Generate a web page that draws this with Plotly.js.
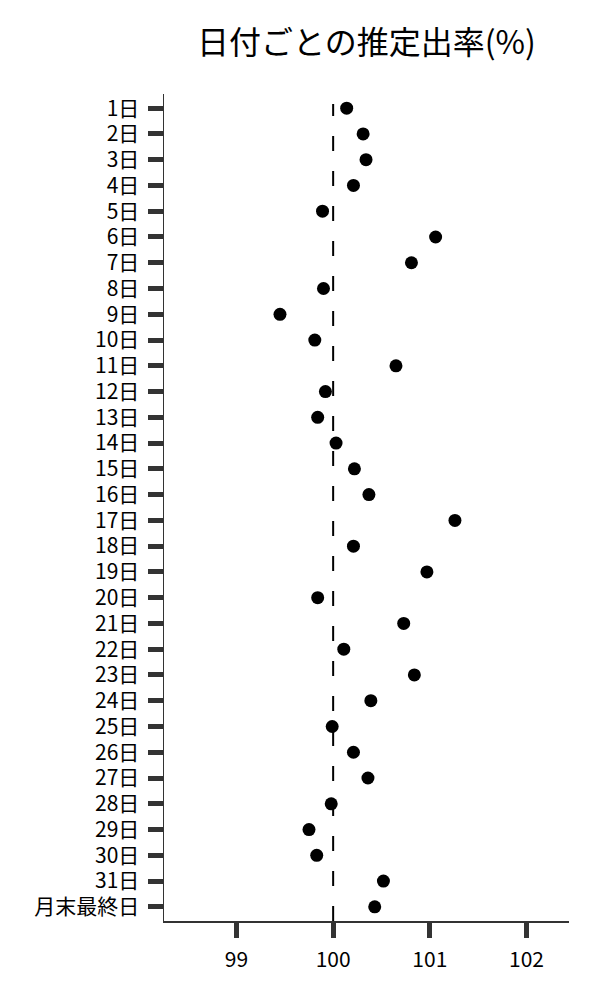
<!DOCTYPE html>
<html>
<head>
<meta charset="utf-8">
<script src="https://cdn.plot.ly/plotly-3.0.1.min.js"></script>
<style>
  html, body { margin: 0; padding: 0; background: #fff; }
  #chart { width: 600px; height: 1000px; }
</style>
</head>
<body>
<div id="chart"></div>
<script>
// days of the month, top to bottom
const days = [
  '1日', '2日', '3日', '4日', '5日', '6日', '7日', '8日', '9日', '10日',
  '11日', '12日', '13日', '14日', '15日', '16日', '17日', '18日', '19日', '20日',
  '21日', '22日', '23日', '24日', '25日', '26日', '27日', '28日', '29日', '30日',
  '31日', '月末最終日'
]

// estimated rate (%) per day
const rates = [
  100.14, 100.31, 100.34, 100.21, 99.89, 101.06, 100.81, 99.90, 99.45, 99.81,
  100.65, 99.92, 99.84, 100.03, 100.22, 100.37, 101.26, 100.21, 100.97, 99.84,
  100.73, 100.11, 100.84, 100.39, 99.99, 100.21, 100.36, 99.98, 99.75, 99.83,
  100.52, 100.43
]

const baseline = 100
const xTicks = [99, 100, 101, 102]

const font = '"Noto Sans CJK JP", "Noto Sans", sans-serif'

const traces = [
  {
    x: rates,
    y: days,
    mode: 'markers',
    type: 'scatter',
    marker: { color: '#000', size: 13 },
    hoverinfo: 'none',
    showlegend: false
  }
]

const layout = {
  width: 600,
  height: 1000,
  margin: { l: 164, r: 31, t: 94, b: 79 },
  paper_bgcolor: '#fff',
  plot_bgcolor: '#fff',
  font: { family: font, color: '#000', size: 21 },
  title: {
    text: '日付ごとの推定出率(%)',
    font: { family: font, size: 32, color: '#000' },
    x: 0.5, xref: 'paper', xanchor: 'center',
    y: 0.957, yref: 'container', yanchor: 'middle'
  },
  // reference line at 100%
  shapes: [{
    type: 'line',
    xref: 'x', yref: 'paper',
    x0: baseline, x1: baseline, y0: 0, y1: 0.988,
    line: { color: '#000', width: 2, dash: '15px,20px' },
    layer: 'below'
  }],
  xaxis: {
    range: [98.25, 102.44],
    tickvals: xTicks,
    ticktext: xTicks.map(String),
    showgrid: false,
    zeroline: false,
    showline: true,
    linecolor: '#333',
    linewidth: 1.5,
    ticks: 'outside',
    ticklen: 15,
    tickwidth: 5,
    tickcolor: '#333',
    ticklabelstandoff: 4,
    tickfont: { family: font, size: 21, color: '#000' }
  },
  yaxis: {
    type: 'category',
    categoryorder: 'array',
    categoryarray: days,
    range: [31.55, -0.55],
    showgrid: false,
    zeroline: false,
    showline: true,
    linecolor: '#333',
    linewidth: 1.5,
    ticks: 'outside',
    ticklen: 15,
    tickwidth: 5,
    tickcolor: '#333',
    ticklabelstandoff: 4,
    tickfont: { family: font, size: 21, color: '#000' }
  }
}

Plotly.newPlot('chart', traces, layout, { staticPlot: true, displayModeBar: false })
</script>
</body>
</html>
